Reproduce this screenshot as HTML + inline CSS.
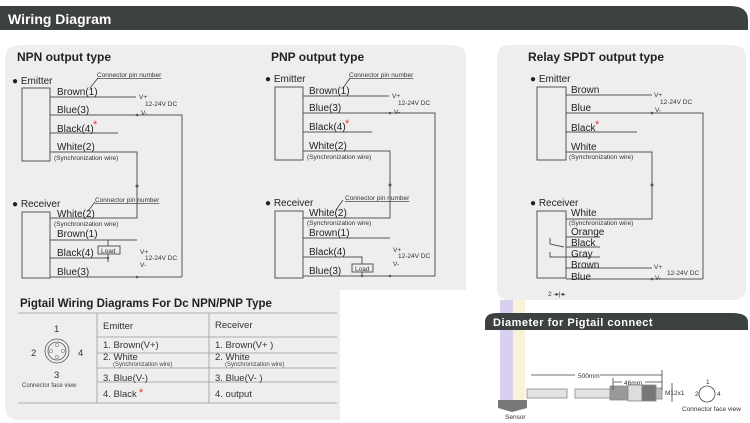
<!DOCTYPE html>
<html><head><meta charset="utf-8"><style>
body{margin:0;background:#fff;}
svg{display:block;font-family:"Liberation Sans",Arial,sans-serif;}
</style></head><body>
<svg width="750" height="423" viewBox="0 0 750 423" xmlns="http://www.w3.org/2000/svg">
<!-- header -->
<path d="M0 6 H730 Q748 6 748 20 V30 H0 Z" fill="#3d413f"/>
<text x="8" y="24" fill="#fff" font-size="14" font-weight="bold">Wiring Diagram</text>
<!-- left panel -->
<path d="M20 45 H452 Q466 45 466 58 V290 H340 V420 H20 Q5 420 5 405 V60 Q5 45 20 45 Z" fill="#eeeeee"/>
<!-- relay panel -->
<path d="M510 45 H732 Q746 45 746 58 V288 Q746 300 732 300 H510 Q497 300 497 288 V58 Q497 45 510 45 Z" fill="#eeeeee"/>
<g font-size="12" font-weight="bold" fill="#222">
<text x="17" y="61">NPN output type</text>
<text x="271" y="61">PNP output type</text>
<text x="528" y="61">Relay SPDT output type</text>
</g>
<g stroke="#555" stroke-width="1" fill="none">
<!-- NPN -->
<rect x="22" y="88" width="28" height="73"/>
<path d="M50 97H136 M50 115H182V277 M50 133H118 M50 152H137V218H50"/>
<rect x="22" y="212" width="28" height="66"/>
<path d="M50 240H137 M108 240V262 M50 258H108 M50 277H182"/>
<rect x="98" y="246" width="22" height="8" fill="#eee"/>
<path d="M98 78L90 88 M95 202L88 211"/>
<!-- PNP -->
<rect x="275" y="87" width="28" height="73"/>
<path d="M303 96H389 M303 113H435V276 M303 132H372 M303 151H390V218H303"/>
<rect x="275" y="211" width="28" height="67"/>
<path d="M303 238H390 M303 257H362V276 M303 276H435"/>
<rect x="352" y="264" width="21" height="8" fill="#eee"/>
<path d="M350 78L343 88 M343 200L336 210"/>
<!-- Relay -->
<rect x="537" y="87" width="29" height="73"/>
<path d="M566 95H652 M566 113H703V279 M566 132H637 M566 152H652V219H566"/>
<rect x="537" y="211" width="29" height="67"/>
<path d="M566 237H600 M566 247H600 M566 257H600 M566 268H652 M566 279H703 M550 238V244 L564 247 M550 252V257H566"/>
</g>
<g fill="#555">
<circle cx="137" cy="186" r="1.5"/><circle cx="390" cy="185" r="1.5"/><circle cx="652" cy="185" r="1.5"/>
<circle cx="137" cy="115" r="1.3"/><circle cx="137" cy="277" r="1.3"/><circle cx="108" cy="258" r="1.2"/>
<circle cx="390" cy="113" r="1.3"/><circle cx="390" cy="276" r="1.3"/><circle cx="362" cy="276" r="1.2"/>
<circle cx="652" cy="113" r="1.3"/><circle cx="652" cy="279" r="1.3"/>
</g>
<g font-size="10" fill="#222">
<text x="12" y="84">● Emitter</text>
<text x="57" y="95">Brown(1)</text><text x="57" y="113">Blue(3)</text><text x="57" y="132">Black(4)</text><text x="57" y="150">White(2)</text>
<text x="12" y="207">● Receiver</text>
<text x="57" y="217">White(2)</text><text x="57" y="237">Brown(1)</text><text x="57" y="256">Black(4)</text><text x="57" y="275">Blue(3)</text>
<text x="265" y="82">● Emitter</text>
<text x="309" y="94">Brown(1)</text><text x="309" y="111">Blue(3)</text><text x="309" y="130">Black(4)</text><text x="309" y="149">White(2)</text>
<text x="265" y="206">● Receiver</text>
<text x="309" y="216">White(2)</text><text x="309" y="236">Brown(1)</text><text x="309" y="255">Black(4)</text><text x="309" y="274">Blue(3)</text>
<text x="530" y="82">● Emitter</text>
<text x="571" y="93">Brown</text><text x="571" y="111">Blue</text><text x="571" y="131">Black</text><text x="571" y="150">White</text>
<text x="530" y="206">● Receiver</text>
<text x="571" y="216">White</text><text x="571" y="235">Orange</text><text x="571" y="246">Black</text><text x="571" y="257">Gray</text><text x="571" y="268">Brown</text><text x="571" y="280">Blue</text>
</g>
<g fill="#e33" font-size="11"><text x="93" y="128">*</text><text x="345" y="127">*</text><text x="595" y="128">*</text></g>
<g font-size="6.5" fill="#333">
<text x="97" y="77" text-decoration="underline">Connector pin number</text>
<text x="95" y="202" text-decoration="underline">Connector pin number</text>
<text x="349" y="77" text-decoration="underline">Connector pin number</text>
<text x="345" y="200" text-decoration="underline">Connector pin number</text>
<text x="54" y="160">(Synchronization wire)</text><text x="54" y="226">(Synchronization wire)</text>
<text x="307" y="159">(Synchronization wire)</text><text x="307" y="225">(Synchronization wire)</text>
<text x="569" y="159">(Synchronization wire)</text><text x="569" y="225">(Synchronization wire)</text>
<text x="139" y="99">V+</text><text x="145" y="106">12-24V DC</text><text x="141" y="115">V-</text>
<text x="140" y="254">V+</text><text x="145" y="260">12-24V DC</text><text x="140" y="267">V-</text>
<text x="392" y="98">V+</text><text x="398" y="105">12-24V DC</text><text x="394" y="114">V-</text>
<text x="393" y="252">V+</text><text x="398" y="258">12-24V DC</text><text x="393" y="266">V-</text>
<text x="654" y="97">V+</text><text x="660" y="104">12-24V DC</text><text x="655" y="112">V-</text>
<text x="654" y="269">V+</text><text x="667" y="275">12-24V DC</text><text x="655" y="280">V-</text>
<text x="101" y="253">Load</text><text x="355" y="271">Load</text>
<text x="548" y="296">2 -▸|◂-</text>
</g>
<!-- table -->
<text x="20" y="307" font-size="11.5" font-weight="bold" fill="#222">Pigtail Wiring Diagrams For Dc NPN/PNP Type</text>
<g stroke="#999" stroke-width="0.8" fill="none">
<path d="M18 313H337 M97 337H337 M97 353H337 M97 368H337 M97 382H337 M18 403H337 M97 313V403 M209 313V403"/>
<circle cx="57" cy="351" r="12" stroke="#555"/><circle cx="57" cy="351" r="9" stroke="#555"/>
<circle cx="57" cy="345" r="1.6"/><circle cx="51" cy="351" r="1.6"/><circle cx="63" cy="351" r="1.6"/><circle cx="57" cy="357" r="1.6"/>
</g>
<g font-size="9.5" fill="#333">
<text x="103" y="329">Emitter</text><text x="215" y="328">Receiver</text>
<text x="103" y="348">1. Brown(V+)</text><text x="215" y="348">1. Brown(V+ )</text>
<text x="103" y="360">2. White</text><text x="215" y="360">2. White</text>
<text x="103" y="381">3. Blue(V-)</text><text x="215" y="381">3. Blue(V- )</text>
<text x="103" y="397">4. Black</text><text x="215" y="397">4. output</text>
<text x="54" y="332">1</text><text x="31" y="356">2</text><text x="78" y="356">4</text><text x="54" y="378">3</text>
</g>
<text x="139" y="396" fill="#e33" font-size="11">*</text>
<g font-size="6" fill="#444"><text x="113" y="366">(Synchronization wire)</text><text x="225" y="366">(Synchronization wire)</text>
<text x="22" y="387">Connector face view</text></g>
<!-- pigtail: sensor bar behind header -->
<rect x="500" y="300" width="13" height="100" fill="#d8d0ee"/>
<rect x="513" y="300" width="12" height="100" fill="#f7f2d8"/>
<path d="M498 400 H527 V408 L512 412 L498 408 Z" fill="#777"/>
<path d="M497 313 H732 Q748 313 748 322 V330 H485 V322 Q485 313 497 313 Z" fill="#3d413f"/>
<text x="493" y="326" fill="#fff" font-size="11" font-weight="bold" letter-spacing="0.5">Diameter for Pigtail connect</text>
<g stroke="#888" fill="#e4e4e4" stroke-width="0.8">
<rect x="527" y="389" width="40" height="9"/><rect x="575" y="389" width="35" height="9"/>
<rect x="610" y="386" width="18" height="14" fill="#999"/><rect x="628" y="385" width="14" height="16" fill="#ddd"/>
<rect x="642" y="385" width="14" height="16" fill="#777"/><rect x="656" y="388" width="6" height="11" fill="#bbb"/>
</g>
<g stroke="#444" stroke-width="0.8" fill="none">
<path d="M531 375H575 M600 375H662 M662 370V390 M613 382H622 M645 382H662 M613 378V390 M672 383V402"/>
<circle cx="707" cy="394" r="8"/>
</g>
<g font-size="6.5" fill="#333">
<text x="578" y="378">500mm</text><text x="624" y="385">46mm</text><text x="665" y="395">M12x1</text>
<text x="505" y="419">Sensor</text><text x="682" y="411">Connector face view</text>
<text x="706" y="384">1</text><text x="695" y="396">2</text><text x="717" y="396">4</text>
</g>
</svg>
</body></html>
